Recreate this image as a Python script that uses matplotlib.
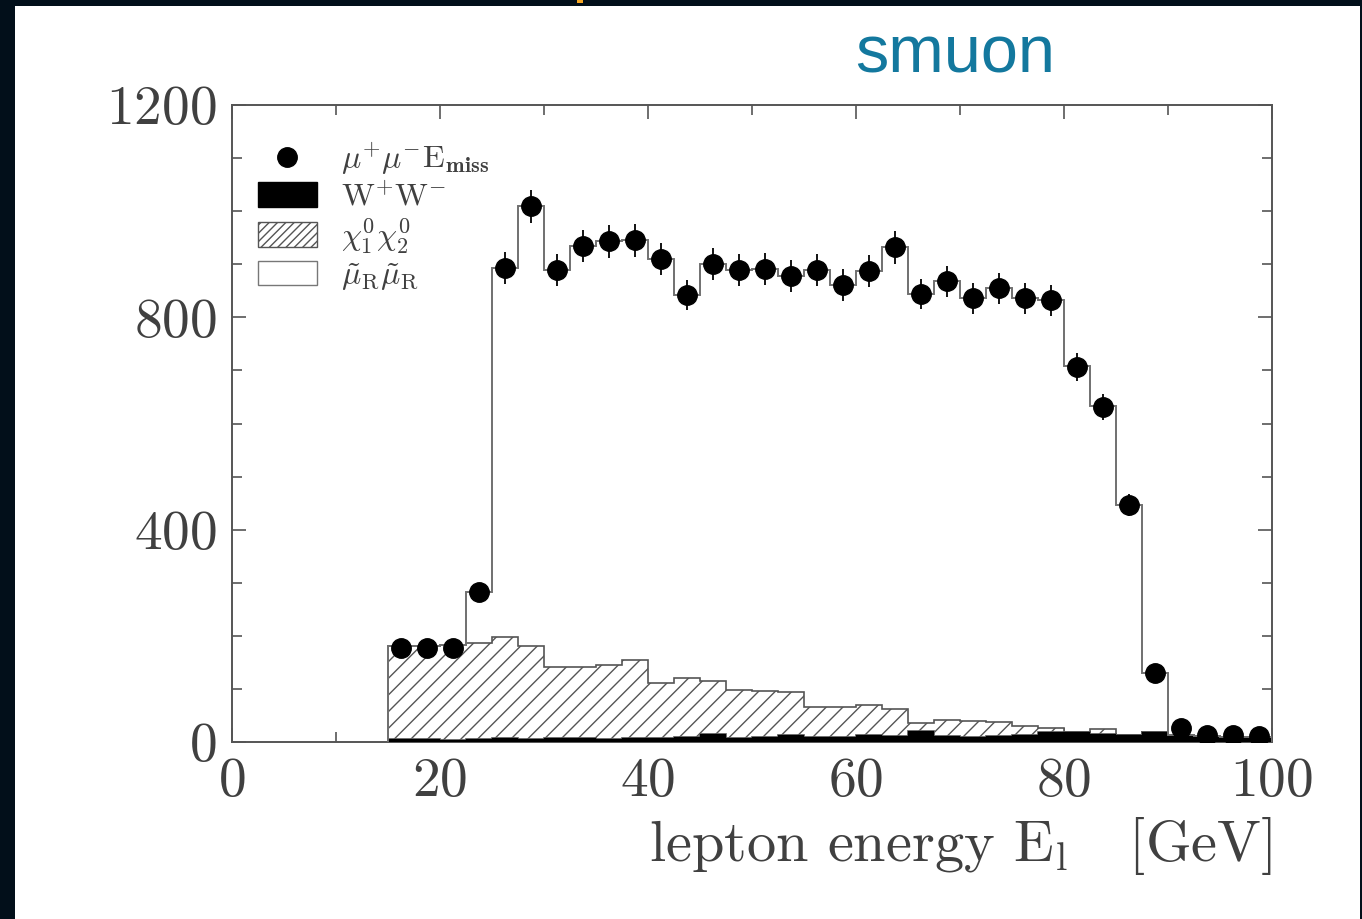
import numpy as np
import matplotlib
matplotlib.use('Agg')
import matplotlib.pyplot as plt
from matplotlib.patches import Patch, Rectangle
from matplotlib.lines import Line2D
from matplotlib.ticker import MultipleLocator

plt.rcParams['font.family'] = ['cmr10', 'DejaVu Serif']
plt.rcParams['mathtext.fontset'] = 'cm'
plt.rcParams['axes.formatter.use_mathtext'] = True
plt.rcParams['axes.unicode_minus'] = False
plt.rcParams['hatch.linewidth'] = 1.0
plt.rcParams['hatch.color'] = '#555555'

# bins of 2.5 GeV from 15 to 100 GeV
edges = np.arange(15.0, 100.1, 2.5)
centers = 0.5 * (edges[:-1] + edges[1:])

# W+W- background (black)
ww = np.array([5, 5, 4, 6, 7, 6, 7, 7, 6, 8, 8, 9, 16, 8, 10, 14, 10,
               10, 14, 12, 20, 12, 10, 12, 14, 18, 18, 15, 14, 18, 14, 12, 10, 10])
# chi1 chi2 background (hatched, stacked on WW)
chi = np.array([175, 175, 178, 180, 191, 175, 134, 134, 139, 146, 103, 111,
                99, 90, 86, 80, 56, 56, 56, 50, 16, 29, 30, 26, 16, 8, 1, 9,
                0, 0, 0, 0, 0, 0])
# smuon signal (open, stacked on top)
smuon = np.array([0, 0, 0, 96, 695, 829, 748, 793, 798, 791, 799, 722, 785,
                  791, 795, 784, 823, 795, 817, 870, 808, 827, 796, 817, 806,
                  806, 689, 609, 432, 112, 0, 0, 0, 0])
# mu+ mu- E_miss events
data = np.array([177, 177, 177, 282, 893, 1009, 889, 934, 943, 945, 910, 842,
                 900, 889, 891, 878, 889, 861, 887, 932, 844, 868, 836, 855,
                 836, 832, 707, 631, 447, 130, 26, 13, 13, 11])

ink = '#404040'
fig = plt.figure(figsize=(13.62, 9.19), dpi=100)
fig.patch.set_facecolor('white')
ax = fig.add_axes([0.1703, 0.1926, 0.7636, 0.6931])

chi_top = ww + chi
total = chi_top + smuon
ax.stairs(ww, edges, fill=True, color='black', lw=0, zorder=3)
ax.stairs(chi_top, edges, baseline=ww, fill=True, facecolor='white',
          edgecolor='#555555', hatch='//', lw=1.2, zorder=2)
ax.stairs(total, edges, color='#707070', lw=1.4, zorder=4)
ax.errorbar(centers, data, yerr=np.sqrt(data), fmt='o', color='black',
            ms=14, elinewidth=1.3, capsize=0, zorder=5)

ax.set_xlim(0, 100)
ax.set_ylim(0, 1200)
ax.xaxis.set_major_locator(MultipleLocator(20))
ax.xaxis.set_minor_locator(MultipleLocator(10))
ax.yaxis.set_major_locator(MultipleLocator(400))
ax.yaxis.set_minor_locator(MultipleLocator(100))
ax.tick_params(which='both', direction='in', top=True, right=True,
               color='#555555', width=1.2)
ax.tick_params(which='major', length=10, labelsize=40, labelcolor=ink, pad=11)
ax.tick_params(which='minor', length=7)
for s in ax.spines.values():
    s.set_color('#555555')
    s.set_linewidth(1.4)

ax.set_xlabel(r'lepton energy E$_{\rm l}$   [GeV]', fontsize=42, color=ink,
              loc='right', labelpad=6)

handles = [
    Line2D([], [], marker='o', ls='none', color='black', ms=14),
    Patch(facecolor='black', edgecolor='black'),
    Patch(facecolor='white', edgecolor='#555555', hatch='////'),
    Patch(facecolor='white', edgecolor='#777777'),
]
labels = [r'$\mu^{+}\mu^{-}\mathrm{E}_{\mathbf{miss}}$',
          r'W$^{+}$W$^{-}$',
          r'$\chi^{0}_{1}\chi^{0}_{2}$',
          r'$\tilde{\mu}_{\rm R}\tilde{\mu}_{\rm R}$']
leg = ax.legend(handles, labels, loc='upper left', bbox_to_anchor=(0.0, 0.984),
                frameon=False, fontsize=23, handlelength=1.85, handleheight=0.8,
                labelspacing=0.15, handletextpad=0.75, borderpad=0.3)
for t in leg.get_texts():
    t.set_color(ink)

fig.text(0.701, 0.940, 'smuon', color='#13789e', fontsize=48,
         family='Liberation Sans', ha='center', va='center')

# dark slide frame around the picture
navy = '#020f1a'
fig.add_artist(Rectangle((0, 0), 15 / 1362, 1, transform=fig.transFigure,
                         color=navy, lw=0))
fig.add_artist(Rectangle((0, 1 - 6 / 919), 1, 6 / 919,
                         transform=fig.transFigure, color=navy, lw=0))
fig.add_artist(Rectangle((1 - 2 / 1362, 0), 2 / 1362, 1,
                         transform=fig.transFigure, color=navy, lw=0))
fig.add_artist(Rectangle((577 / 1362, 1 - 3 / 919), 6 / 1362, 3 / 919,
                         transform=fig.transFigure, color='#f5a623', lw=0))

fig.savefig('out.png', dpi=100, facecolor=fig.get_facecolor())
